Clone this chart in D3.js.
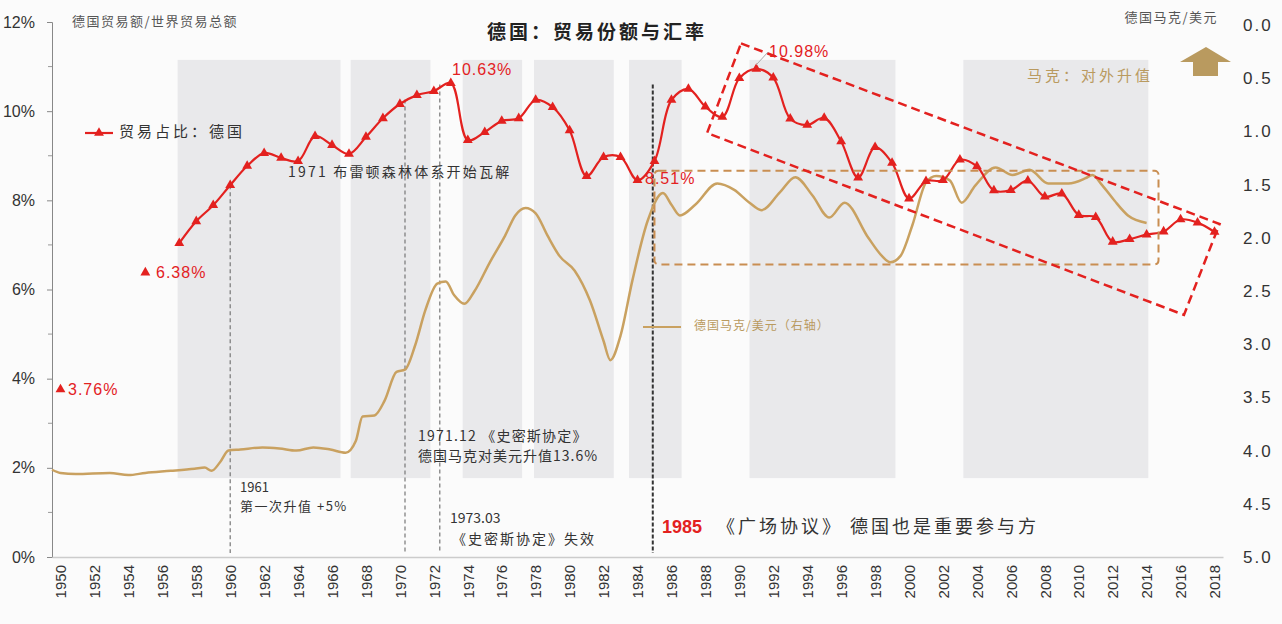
<!DOCTYPE html>
<html><head><meta charset="utf-8">
<script src="https://cdn.jsdelivr.net/npm/d3@7"></script>
<style>
html,body{margin:0;padding:0;background:#fbfbfb;}
svg{display:block;font-family:"Noto Sans CJK SC","Noto Sans",sans-serif;}
</style></head>
<body><svg id="c" width="1282" height="624"></svg>
<script>
// ---------- DATA ----------
const years = d3.range(1950, 2019);
const tradeShare = [3.76,null,null,null,null,6.38,null,7.04,7.53,7.89,
  8.34,8.77,9.06,8.95,8.88,9.44,9.24,9.04,9.42,9.84,
  10.16,10.36,10.45,10.63,9.35,9.53,9.78,9.84,10.25,10.09,
  9.57,8.54,8.97,8.97,8.45,8.88,10.25,10.50,10.10,9.87,
  10.74,10.95,10.75,9.83,9.69,9.85,9.32,8.51,9.19,8.84,
  8.04,8.43,8.45,8.91,8.76,8.22,8.23,8.44,8.08,8.15,
  7.67,7.62,7.07,7.13,7.23,7.30,7.57,7.50,7.29];
// Mark / USD (right axis, inverted), sampled along the curve
const markYears = [1949.5,1950.0,1950.9,1952.9,1954.0,1955.0,1956.5,1957.9,1958.5,1958.9,1959.4,1959.9,1960.6,1961.9,1962.9,1963.9,1964.9,1965.9,1966.8,1967.4,1967.8,1968.5,1969.1,1969.8,1970.3,1970.9,1971.5,1972.2,1972.7,1973.2,1973.8,1974.4,1975.3,1976.2,1976.8,1977.4,1978.0,1978.7,1979.4,1980.3,1981.2,1982.0,1982.4,1983.0,1983.7,1984.6,1985.5,1986.0,1986.5,1987.4,1988.7,1989.7,1990.6,1991.3,1992.4,1993.3,1994.3,1995.3,1996.2,1997.6,1998.4,1998.9,1999.5,2000.2,2001.0,2001.6,2002.4,2003.1,2003.9,2005.1,2006.1,2007.1,2008.2,2009.4,2010.4,2010.8,2011.4,2012.1,2012.9,2014.0];
const markUsd = [4.18,4.21,4.22,4.21,4.23,4.21,4.19,4.17,4.16,4.19,4.11,4.00,3.99,3.97,3.98,4.00,3.97,3.99,4.02,3.91,3.68,3.67,3.53,3.26,3.24,3.01,2.68,2.43,2.41,2.54,2.62,2.50,2.23,1.98,1.79,1.72,1.77,1.98,2.17,2.31,2.59,2.97,3.15,2.92,2.40,1.84,1.58,1.69,1.79,1.69,1.49,1.55,1.67,1.74,1.57,1.43,1.60,1.81,1.67,2.00,2.17,2.23,2.17,1.88,1.48,1.42,1.46,1.67,1.51,1.34,1.41,1.36,1.49,1.49,1.44,1.41,1.51,1.65,1.79,1.86];
const leftTicks = [0,2,4,6,8,10,12];
const rightTicks = [0,0.5,1,1.5,2,2.5,3,3.5,4,4.5,5];
const xTickYears = d3.range(1950, 2019, 2);
const shadeBands = [[1956.9,1966.5],[1967.1,1971.8],[1973.7,1977.2],[1977.9,1982.6],[1983.5,1986.6],[1990.6,1999.2],[2003.2,2014.1]];
const eventYears = [1960, 1970.3, 1972.35, 1984.9];
const eventTops = [8.34, 10.26, 10.6, 10.6];
const trendBox = [[1990.1,11.52],[2018.3,7.47],[2016.2,5.43],[1988.1,9.51]];
const rangeBox = {x0:1985.0, x1:2014.7, y0:1.37, y1:2.25};

// ---------- SCALES ----------
const svg = d3.select("#c");
const L = 52, R = 1223, T = 22, B = 557;
const x = d3.scaleLinear().domain([1949.5, 2018.5]).range([L, R]);
const yL = d3.scaleLinear().domain([0, 12]).range([B, T]);
const yR = d3.scaleLinear().domain([0, 5]).range([25, B]);
const red = "#e3211f", gold = "#c9a160";

// shaded bands
svg.append("g").selectAll("rect").data(shadeBands).join("rect")
  .attr("x", d => x(d[0])).attr("width", d => x(d[1]) - x(d[0]))
  .attr("y", yL(11.15)).attr("height", yL(1.77) - yL(11.15))
  .attr("fill", "#e9e9eb");

// axes
const gL = svg.append("g").attr("transform", `translate(${L},0)`)
  .call(d3.axisLeft(yL).tickValues(leftTicks).tickFormat(d => d + "%").tickSize(5).tickPadding(12));
gL.select(".domain").attr("stroke", "#888");
gL.selectAll(".tick line").attr("stroke", "#888");
gL.selectAll("text").attr("font-family", "Liberation Sans, Arial, sans-serif").attr("font-size", 16).attr("fill", "#333");
gL.append("g").selectAll("line").data([1,3,5,7,9,11]).join("line")
  .attr("x1", 0).attr("x2", -4).attr("y1", d => yL(d)).attr("y2", d => yL(d)).attr("stroke", "#999");

const gR = svg.append("g").attr("transform", `translate(${R},0)`)
  .call(d3.axisRight(yR).tickValues(rightTicks).tickFormat(d3.format(".1f")).tickSize(0).tickPadding(20));
gR.select(".domain").remove();
gR.selectAll("text").attr("font-family", "Liberation Sans, Arial, sans-serif").attr("font-size", 17).attr("letter-spacing", 2).attr("fill", "#333");

const gX = svg.append("g").attr("transform", `translate(0,${B})`)
  .call(d3.axisBottom(x).tickValues(xTickYears).tickFormat(d3.format("d")).tickSize(0).tickPadding(0));
gX.select(".domain").attr("stroke", "#ccc").attr("stroke-width", 1.5);
gX.selectAll("text").attr("font-family", "Liberation Sans, Arial, sans-serif").attr("font-size", 15).attr("fill", "#333")
  .attr("text-anchor", "end").attr("transform", "rotate(-90)").attr("dy", "0.35em").attr("x", -8).attr("y", 0);

// event dashed lines
svg.append("g").selectAll("line").data(eventYears).join("line")
  .attr("x1", d => x(d)).attr("x2", d => x(d))
  .attr("y1", (d, i) => yL(eventTops[i])).attr("y2", B - 4)
  .attr("stroke", (d, i) => i === 3 ? "#333" : "#777")
  .attr("stroke-width", (d, i) => i === 3 ? 2 : 1.2)
  .attr("stroke-dasharray", (d, i) => i === 3 ? "4,2" : "4,3");

// gold line
const goldData = markYears.map((yr, i) => [yr, markUsd[i]]);
svg.append("path").datum(goldData)
  .attr("d", d3.line().x(d => x(d[0])).y(d => yR(d[1])).curve(d3.curveMonotoneX))
  .attr("fill", "none").attr("stroke", gold).attr("stroke-width", 2.5);

// red line
const redData = years.map((yr, i) => [yr, tradeShare[i]]);
const lineData = redData.filter(d => d[0] >= 1957);
svg.append("path").datum(lineData)
  .attr("d", d3.line().x(d => x(d[0])).y(d => yL(d[1])).curve(d3.curveCatmullRom.alpha(0.5)))
  .attr("fill", "none").attr("stroke", red).attr("stroke-width", 2.2);
const tri = d3.symbol().type(d3.symbolTriangle).size(42);
svg.append("g").selectAll("path").data(redData.filter(d => d[1] != null)).join("path")
  .attr("d", tri).attr("transform", d => `translate(${x(d[0])},${yL(d[1])})`).attr("fill", red);

// range box (gold dashed)
svg.append("rect")
  .attr("x", x(rangeBox.x0)).attr("y", yR(rangeBox.y0))
  .attr("width", x(rangeBox.x1) - x(rangeBox.x0)).attr("height", yR(rangeBox.y1) - yR(rangeBox.y0))
  .attr("rx", 4).attr("fill", "none").attr("stroke", "#c98e52").attr("stroke-width", 2).attr("stroke-dasharray", "8,5");

// trend box (red dashed)
svg.append("path")
  .attr("d", d3.line().x(d => x(d[0])).y(d => yL(d[1])).curve(d3.curveLinearClosed)(trendBox))
  .attr("fill", "none").attr("stroke", red).attr("stroke-width", 2.5).attr("stroke-dasharray", "9,5");

// ---------- TEXT ----------
function txt(t, px, py, o) {
  o = o || {};
  return svg.append("text").attr("x", px).attr("y", py).text(t)
    .attr("font-size", o.size || 14).attr("fill", o.fill || "#333")
    .attr("font-weight", o.weight || "normal")
    .attr("letter-spacing", o.ls || 0)
    .attr("text-anchor", o.anchor || "start")
    .attr("font-family", o.font || null)
    .attr("dominant-baseline", "middle");
}
const num = "Liberation Sans, Arial, sans-serif";
txt("德国：贸易份额与汇率", 597, 34, {size: 19, weight: "bold", anchor: "middle", fill: "#222", ls: 3});
txt("德国贸易额/世界贸易总额", 72, 22, {size: 13, fill: "#555", ls: 1.5});
txt("德国马克/美元", 1218, 18, {size: 13, fill: "#555", anchor: "end", ls: 1.5});
txt("马克：对外升值", 1027, 77, {size: 15, fill: "#b99a5f", ls: 3});
// arrow
svg.append("path").attr("d", d3.line()([[1206,47],[1231,62],[1218,62],[1218,76],[1193,76],[1193,62],[1180,62]]) + "Z").attr("fill", "#b99a5f");

// value labels
txt("10.63%", 452, 71, {size: 16, fill: red, font: num, ls: 1});
svg.append("line").attr("x1", x(1991)).attr("y1", yL(10.95) - 4).attr("x2", 768).attr("y2", 52).attr("stroke", "#aaa");
txt("10.98%", 769, 53, {size: 16, fill: red, font: num, ls: 1});
txt("8.51%", 645, 180, {size: 16, fill: red, font: num, ls: 1});
txt("6.38%", 156, 274, {size: 16, fill: red, font: num, ls: 1});
txt("3.76%", 68, 391, {size: 16, fill: red, font: num, ls: 1});

// legends
svg.append("line").attr("x1", 85).attr("x2", 113).attr("y1", 133).attr("y2", 133).attr("stroke", red).attr("stroke-width", 2.2);
svg.append("path").attr("d", tri).attr("transform", "translate(99,133)").attr("fill", red);
txt("贸易占比：德国", 119, 133, {size: 15, fill: "#333", ls: 3});
svg.append("line").attr("x1", 643).attr("x2", 681).attr("y1", 327).attr("y2", 327).attr("stroke", gold).attr("stroke-width", 2);
txt("德国马克/美元（右轴）", 694, 327, {size: 12, fill: "#b99a5f", ls: 1});

// annotations
txt("1971 布雷顿森林体系开始瓦解", 288, 173, {size: 14, fill: "#333", ls: 2.2});
txt("1971.12  《史密斯协定》", 418, 437, {size: 14, fill: "#333", ls: 1.2});
txt("德国马克对美元升值13.6%", 418, 457, {size: 14, fill: "#333", ls: 1});
txt("1961", 240, 488, {size: 13, fill: "#333"});
txt("第一次升值 +5%", 240, 507, {size: 13, fill: "#333", ls: 1.5});
txt("1973.03", 450, 519, {size: 14, fill: "#333"});
txt("《史密斯协定》失效", 452, 540, {size: 14, fill: "#333", ls: 2});
const t85 = svg.append("text").attr("x", 662).attr("y", 528).attr("dominant-baseline", "middle").attr("font-size", 18);
t85.append("tspan").text("1985").attr("fill", red).attr("font-weight", "bold").attr("font-family", num);
t85.append("tspan").text(" 《广场协议》 德国也是重要参与方").attr("fill", "#333").attr("letter-spacing", 3).attr("dx", 8);
</script></body></html>
